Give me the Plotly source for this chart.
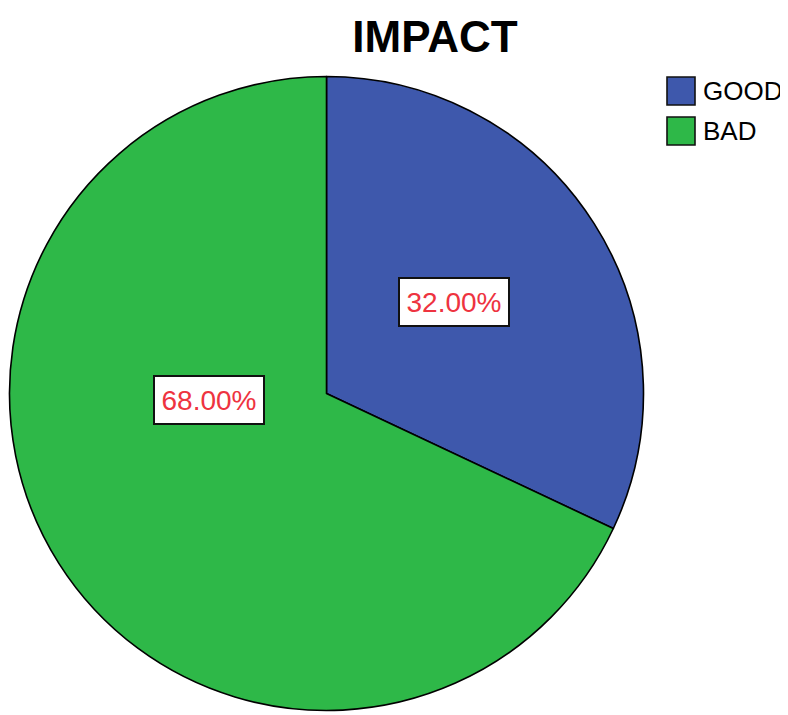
import plotly.graph_objects as go

# ---- data ----
categories = ["GOOD", "BAD"]
values = [32, 68]
colors = ["#3E58AC", "#2EB848"]
title_text = "IMPACT"

# page body has an 8px margin, so the figure sits at (8, 8)
OFF = 8
W, H = 788 - OFF, 715 - OFF
total = sum(values)
pct_labels = [f"{v / total * 100:.2f}%" for v in values]

def px(x):
    return (x - OFF) / W

def py(y):
    return 1 - (y - OFF) / H

fig = go.Figure()
fig.add_trace(go.Pie(
    labels=categories,
    values=values,
    marker=dict(colors=colors, line=dict(color="black", width=1.6)),
    sort=False,
    direction="clockwise",
    rotation=0,
    textinfo="none",
    hoverinfo="label+percent",
    showlegend=False,
    domain=dict(x=[px(9.5), px(643.5)], y=[py(712), py(75)]),
))

# label boxes (positions in pixels, layout only)
label_centers = [(454, 302), (209, 400)]
annotations = []
for (cx, cy), t in zip(label_centers, pct_labels):
    annotations.append(dict(
        x=px(cx), y=py(cy), xref="paper", yref="paper",
        text=t, showarrow=False,
        font=dict(family="Liberation Sans, Arial", size=28, color="#EE3340"),
        bgcolor="white", bordercolor="#111111", borderwidth=2, borderpad=0,
        width=108, height=46, xanchor="center", yanchor="middle",
    ))

# custom legend
shapes = []
leg_x0, leg_y0, sw, gap = 667, 77, 28, 40
for i, (c, name) in enumerate(zip(colors, categories)):
    y0 = leg_y0 + i * gap
    shapes.append(dict(type="rect", xref="paper", yref="paper",
                       x0=px(leg_x0), x1=px(leg_x0 + sw), y0=py(y0 + sw), y1=py(y0),
                       fillcolor=c, line=dict(color="#111111", width=1.6)))
    annotations.append(dict(
        x=px(leg_x0 + sw + 6), y=py(y0 + sw / 2), xref="paper", yref="paper",
        text=name, showarrow=False, xanchor="left", yanchor="middle",
        font=dict(family="Liberation Sans, Arial", size=26, color="black"),
    ))

fig.update_layout(
    width=W, height=H,
    margin=dict(l=0, r=0, t=0, b=0),
    paper_bgcolor="white", plot_bgcolor="white",
    title=dict(text=f"<b>{title_text}</b>", x=px(435), y=py(37),
               xanchor="center", yanchor="middle",
               font=dict(family="Liberation Sans, Arial", size=44, color="black")),
    annotations=annotations,
    shapes=shapes,
)

fig.write_html("out.html")
